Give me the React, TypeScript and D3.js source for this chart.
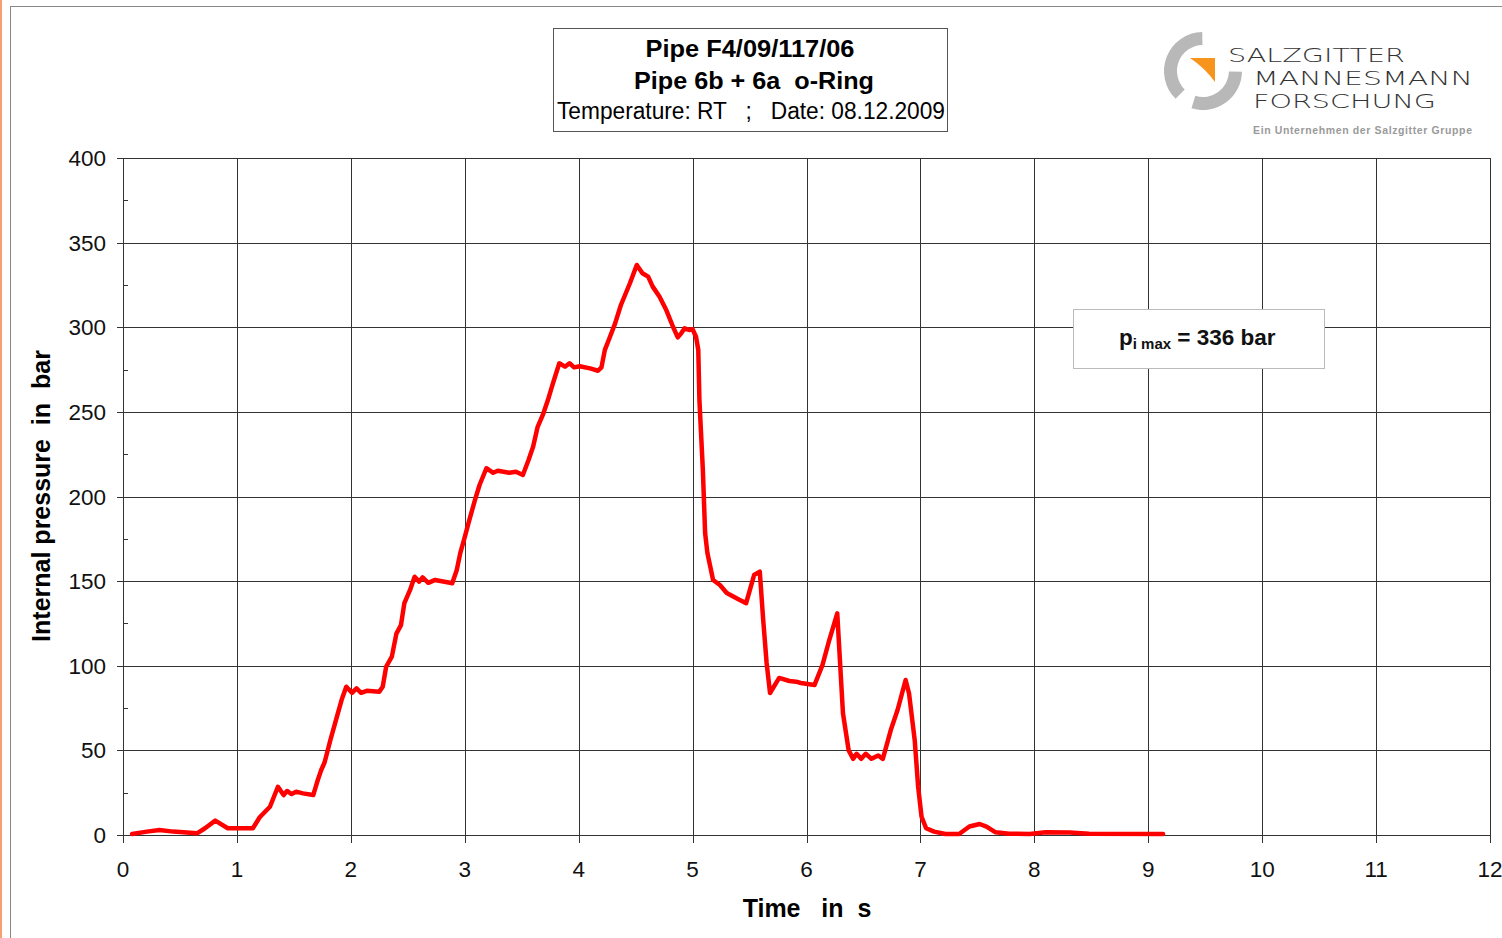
import React from "react";
import * as d3 from "d3";

// pressure curve (time in s, pressure in bar)
const timeS = [
  0.08, 0.21, 0.32, 0.44, 0.65, 0.72, 0.81, 0.92, 1.14, 1.2, 1.29, 1.36, 1.41, 1.44, 1.48, 1.52, 1.58, 1.67,
  1.71, 1.74, 1.77, 1.82, 1.87, 1.92, 1.96, 2.01, 2.05, 2.09, 2.14, 2.25, 2.28, 2.31, 2.36, 2.4, 2.44, 2.47,
  2.52, 2.56, 2.6, 2.63, 2.68, 2.74, 2.87, 2.89, 2.93, 2.96, 3.0, 3.04, 3.09, 3.13, 3.19, 3.25, 3.29, 3.39,
  3.45, 3.51, 3.56, 3.6, 3.64, 3.69, 3.73, 3.77, 3.83, 3.88, 3.92, 3.96, 4.01, 4.1, 4.17, 4.2, 4.23, 4.27,
  4.32, 4.37, 4.45, 4.51, 4.56, 4.61, 4.65, 4.71, 4.77, 4.83, 4.87, 4.9, 4.93, 4.97, 5.0, 5.03, 5.05, 5.06,
  5.09, 5.11, 5.13, 5.18, 5.24, 5.3, 5.41, 5.47, 5.54, 5.59, 5.62, 5.65, 5.68, 5.76, 5.85, 5.91, 5.95, 6.07,
  6.14, 6.2, 6.27, 6.32, 6.37, 6.41, 6.44, 6.48, 6.52, 6.57, 6.63, 6.67, 6.74, 6.8, 6.87, 6.9, 6.95, 6.98,
  7.01, 7.05, 7.12, 7.22, 7.34, 7.43, 7.52, 7.58, 7.66, 7.78, 7.96, 8.1, 8.31, 8.48, 9.13,
];
const pressureBar = [
  0.6, 2, 3, 2, 1, 4, 8.5, 4, 4, 10.5, 16.7, 28.5, 23.6, 26, 24.2, 25.6, 24.6, 23.6,
  32.5, 38.4, 43, 56, 68, 80, 87.6, 84, 86.6, 84, 85.2, 84.7, 87.6, 99.4, 105.4, 119, 124, 137,
  144.8, 152.6, 149.7, 152.2, 149, 150.7, 149, 148.7, 156.6, 166.4, 176, 186, 198, 206.8, 216.7, 214, 215.2, 214,
  214.6, 212.7, 221.6, 229.4, 241.2, 249, 257, 266, 278.7, 276.7, 278.7, 276.3, 277, 275.7, 274.3, 276.3, 286.6, 293.5,
  302.3, 313, 326, 336.8, 331.9, 329.9, 324, 318, 310, 300, 294, 296.4, 299.4, 298.4, 298.8, 294.4, 286.6, 257,
  216, 178.4, 166.6, 150.7, 147.7, 143, 139, 137, 153.6, 155.6, 127, 101.6, 83.9, 92.8, 91, 90.6, 89.8, 88.6,
  100.4, 115.2, 131, 72, 50, 45, 48, 45, 48, 45, 47, 45, 62, 74, 91.6, 83.7, 56, 28.5,
  10.8, 4, 2, 0.6, 0.6, 5, 6.5, 5, 1.6, 0.8, 0.6, 1.6, 1.5, 0.8, 0.6,
];

const xTicks = d3.range(0, 13);
const yTicks = d3.range(0, 401, 50);
const yMinorTicks = d3.range(25, 400, 50);

const titleLines = ["Pipe F4/09/117/06", "Pipe 6b + 6a  o-Ring", "Temperature: RT   ;   Date: 08.12.2009"];
const logoLines = ["SALZGITTER", "MANNESMANN", "FORSCHUNG"];

const W = 1502;
const H = 938;
const font = "Arial, 'Liberation Sans', sans-serif";
const logoFont = "'DejaVu Sans', sans-serif";

export default function App() {
  const x = d3.scaleLinear().domain([0, 12]).range([123, 1490]);
  const y = d3.scaleLinear().domain([0, 400]).range([835, 158]);
  const pts: [number, number][] = timeS.map((t, i) => [t, pressureBar[i]]);
  const line = d3
    .line<[number, number]>()
    .x((d) => x(d[0]))
    .y((d) => y(d[1]));

  // logo ring pieces
  const cx = 1203,
    cy = 71;
  const arc = d3.arc();
  const ringA = arc({ innerRadius: 26, outerRadius: 39, startAngle: -2.36, endAngle: -0.02 }) as string;
  const ringB = arc({ innerRadius: 26, outerRadius: 39, startAngle: Math.PI / 2 + 0.02, endAngle: Math.PI + 0.3 }) as string;

  const snap = (v: number) => Math.round(v) + 0.5;

  return (
    <svg
      width={W}
      height={H}
      style={{ position: "absolute", left: 0, top: 0, background: "#fff", fontFamily: font }}
    >
      <rect x={0} y={0} width={W} height={H} fill="#fff" />
      <line x1={1} x2={1} y1={0} y2={H} stroke="#f08040" strokeWidth={1.5} />
      <rect x={10.5} y={6.5} width={1700} height={1000} fill="none" stroke="#888" strokeWidth={1} />

      {/* gridlines */}
      <g shapeRendering="crispEdges">
        {yTicks.map((t) => (
          <line key={"gy" + t} x1={117} x2={1490} y1={snap(y(t))} y2={snap(y(t))} stroke="#333" />
        ))}
        {xTicks.map((t) => (
          <line key={"gx" + t} x1={snap(x(t))} x2={snap(x(t))} y1={158} y2={843} stroke="#333" />
        ))}
        {yMinorTicks.map((t) => (
          <line key={"my" + t} x1={123} x2={128} y1={snap(y(t))} y2={snap(y(t))} stroke="#333" />
        ))}
      </g>

      {/* tick labels */}
      {yTicks.map((t) => (
        <text key={"ly" + t} x={106} y={y(t)} dy="0.36em" textAnchor="end" fontSize={22.5} fill="#111">
          {t}
        </text>
      ))}
      {xTicks.map((t) => (
        <text key={"lx" + t} x={x(t)} y={869} dy="0.36em" textAnchor="middle" fontSize={22.5} fill="#111">
          {t}
        </text>
      ))}

      {/* axis titles */}
      <text x={807} y={917} textAnchor="middle" fontSize={25} fontWeight="bold" style={{ whiteSpace: "pre" }}>
        {"Time   in  s"}
      </text>
      <text
        transform="translate(50,496) rotate(-90)"
        textAnchor="middle"
        fontSize={25}
        fontWeight="bold"
        style={{ whiteSpace: "pre" }}
      >
        {"Internal pressure  in  bar"}
      </text>

      {/* data curve */}
      <path d={line(pts) || ""} fill="none" stroke="#ff0000" strokeWidth={4.5} strokeLinejoin="round" strokeLinecap="round" />

      {/* title box */}
      <rect x={553.5} y={28.5} width={394} height={103} fill="#fff" stroke="#555" />
      <text x={750} y={57} textAnchor="middle" fontSize={24} fontWeight="bold" textLength={209} lengthAdjust="spacingAndGlyphs" style={{ whiteSpace: "pre" }}>
        {titleLines[0]}
      </text>
      <text x={754} y={89} textAnchor="middle" fontSize={24} fontWeight="bold" textLength={240} lengthAdjust="spacingAndGlyphs" style={{ whiteSpace: "pre" }}>
        {titleLines[1]}
      </text>
      <text x={751} y={119} textAnchor="middle" fontSize={23} textLength={388} lengthAdjust="spacingAndGlyphs" style={{ whiteSpace: "pre" }}>
        {titleLines[2]}
      </text>

      {/* p max box */}
      <rect x={1073.5} y={309.5} width={251} height={59} fill="#fff" stroke="#bbb" />
      <text x={1119} y={345} fontSize={22.5} fontWeight="bold" fill="#111">
        p
        <tspan fontSize={15} dy={4}>
          i max
        </tspan>
        <tspan dy={-4}> = 336 bar</tspan>
      </text>

      {/* logo */}
      <g transform={`translate(${cx},${cy})`}>
        <path d={ringA} fill="#b8b8b8" />
        <path d={ringB} fill="#b8b8b8" />
        <path d="M-13,-13 L12,-13 L12,11 Q2,-3 -13,-13 Z" fill="#f7941d" />
      </g>
      <g fontFamily={logoFont} fontWeight={300} fill="#333" fontSize={19}>
        <text x={1228} y={62} textLength={177} lengthAdjust="spacingAndGlyphs">
          {logoLines[0]}
        </text>
        <text x={1253} y={85} textLength={220} lengthAdjust="spacingAndGlyphs">
          {logoLines[1]}
        </text>
        <text x={1253} y={108} textLength={183} lengthAdjust="spacingAndGlyphs">
          {logoLines[2]}
        </text>
      </g>
      <text x={1253} y={134} fontSize={10.5} fontWeight="bold" fill="#9a9a9a" textLength={219}>
        Ein Unternehmen der Salzgitter Gruppe
      </text>
    </svg>
  );
}
